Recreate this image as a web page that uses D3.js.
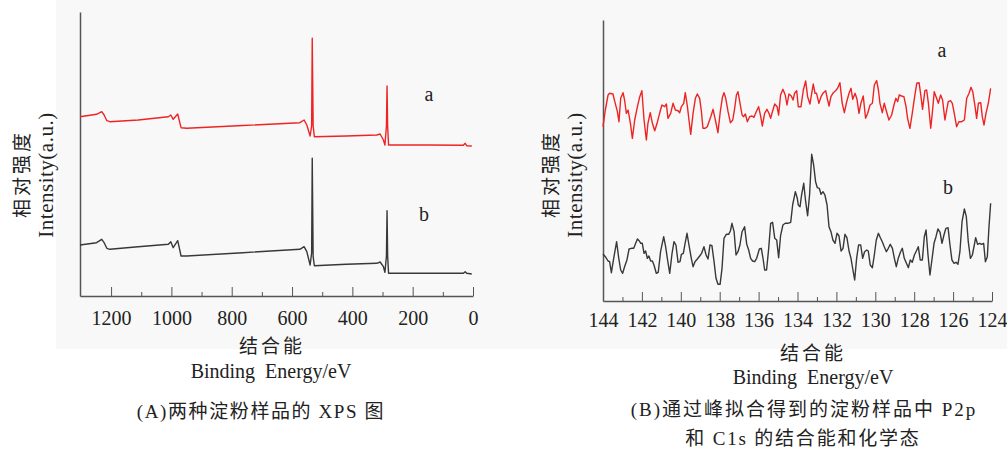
<!DOCTYPE html>
<html>
<head>
<meta charset="utf-8">
<script src="https://cdn.jsdelivr.net/npm/d3@7"></script>
<style>
body{margin:0;background:#fff;}
text{fill:#222;}
.lat{font-family:"Liberation Serif","Times New Roman",serif;}
.cjk{font-family:"Noto Sans CJK SC",sans-serif;}
</style>
</head>
<body>
<div id="chart"></div>
<script>
// (A) wide XPS scan, binding energy (eV) and intensity (a.u.)
var xpsEnergy = [1303, 1248, 1231, 1223, 1214, 1204, 1110, 1010, 1002, 994, 979, 968, 949, 763,
	574, 560, 551, 540, 535, 533, 530, 526, 420, 319, 308, 297, 292, 287, 285, 283, 280, 150, 32, 26, 21, 4];
var xpsA = [179.3, 181.7, 184.3, 181.0, 175.3, 174.3, 176.0, 179.3, 181.0, 176.7, 182.0, 168.3, 167.7, 170.5,
	173.3, 176.0, 171.0, 160.0, 170.0, 257.7, 170.0, 159.3, 160.0, 161.0, 162.0, 156.0, 151.0, 170.0, 210.0, 170.0,
	151.0, 151.0, 150.7, 152.7, 150.3, 150.0];
var xpsB = [51.0, 53.3, 56.7, 53.3, 47.7, 46.7, 49.3, 51.7, 54.3, 48.3, 55.3, 40.0, 40.0, 43.3,
	46.7, 49.3, 44.3, 31.0, 43.0, 137.7, 39.3, 30.3, 31.7, 32.7, 34.0, 29.3, 23.7, 40.0, 85.3, 40.0,
	22.7, 22.7, 22.7, 24.3, 22.7, 22.0];
var xpsTicks = [1200, 1000, 800, 600, 400, 200, 0];
var xpsMinorTicks = [1100, 900, 700, 500, 300, 100];

// (B) P2p / C1s region
var p2pEnergyA = [
	144.00,143.88,143.74,143.66,143.49,143.37,143.26,143.18,143.09,142.97,
	142.89,142.80,142.71,142.59,142.49,142.37,142.23,142.11,142.00,141.89,
	141.77,141.69,141.57,141.46,141.34,141.22,141.09,140.97,140.83,140.74,
	140.66,140.52,140.40,140.28,140.14,140.06,139.97,139.85,139.77,139.66,
	139.58,139.49,139.37,139.25,139.15,139.03,138.94,138.86,138.74,138.64,
	138.55,138.46,138.34,138.26,138.17,138.09,137.97,137.86,137.78,137.69,
	137.57,137.45,137.33,137.23,137.14,137.06,136.97,136.85,136.77,136.68,
	136.58,136.46,136.34,136.24,136.12,136.00,135.89,135.81,135.69,135.57,
	135.47,135.38,135.29,135.17,135.05,134.97,134.87,134.75,134.63,134.54,
	134.44,134.32,134.23,134.15,134.04,
	133.96,133.82,133.70,133.58,133.48,133.36,133.27,133.19,133.10,133.02,
	132.90,132.79,132.67,132.55,132.47,132.38,132.28,132.16,132.04,131.94,
	131.82,131.70,131.59,131.47,131.35,131.25,131.16,131.04,130.94,130.84,
	130.74,130.62,130.50,130.39,130.27,130.15,130.05,129.93,129.84,129.76,
	129.64,129.54,129.42,129.30,129.16,129.04,128.94,128.85,128.77,128.65,
	128.53,128.42,128.34,128.22,128.10,127.99,127.87,127.75,127.65,127.57,
	127.45,127.36,127.27,127.15,127.07,126.97,126.85,126.76,126.64,126.54,
	126.42,126.33,126.25,126.13,126.04,125.94,125.82,125.70,125.56,125.42,
	125.30,125.18,125.08,124.99,124.87,124.79,124.70,124.58,124.50,124.41,
	124.31,124.19,124.07];
var p2pA = [
	170.3,187.0,202.0,203.7,203.0,193.7,185.3,175.3,198.7,204.3,
	197.0,183.7,187.0,173.7,158.7,177.0,190.3,200.3,206.3,177.0,
	157.0,173.7,184.3,173.7,166.3,173.7,183.7,192.0,190.3,193.0,
	178.7,183.7,193.7,187.0,186.3,184.3,190.3,193.7,204.3,190.3,
	177.0,162.7,183.7,198.7,203.0,198.7,185.3,168.7,168.7,170.3,
	175.3,180.3,187.7,180.3,172.0,164.3,185.3,199.7,204.3,198.7,
	185.3,174.3,177.0,188.7,202.0,205.3,195.3,182.0,180.3,183.0,
	175.3,180.3,181.0,179.7,185.3,190.3,180.3,171.0,183.7,187.7,
	183.7,178.7,185.3,193.0,190.3,182.0,202.0,207.7,202.0,192.0,
	203.0,201.0,197.0,203.7,206.3,
	190.3,190.3,207.0,216.0,200.3,193.0,203.7,213.0,203.7,203.7,
	193.7,200.3,204.3,206.3,198.7,191.0,200.3,204.3,206.3,208.7,
	214.3,193.7,184.3,195.3,203.7,208.7,197.7,203.7,197.7,183.7,
	193.7,201.0,178.7,183.7,192.0,193.7,212.0,216.3,207.0,193.7,
	184.3,193.7,185.3,177.0,182.0,192.0,198.7,195.3,202.0,201.0,
	200.3,190.3,178.7,168.7,183.7,198.7,213.7,214.3,200.3,187.7,
	206.3,207.0,193.7,168.7,183.7,205.3,198.7,193.7,202.0,197.0,
	177.0,187.0,195.3,196.3,193.7,183.7,170.3,175.3,175.3,177.0,
	198.7,203.7,209.7,205.3,190.3,178.7,193.7,194.3,180.3,172.0,
	183.7,193.7,208.7];
var p2pEnergyB = [
	144.00,143.88,143.74,143.66,143.57,143.45,143.30,143.19,143.09,142.99,
	142.89,142.77,142.66,142.54,142.42,142.32,142.23,142.13,142.06,141.98,
	141.89,141.81,141.72,141.64,141.55,141.46,141.38,141.26,141.16,141.04,
	140.88,140.78,140.68,140.57,140.45,140.35,140.25,140.14,140.04,139.97,
	139.87,139.78,139.68,139.58,139.46,139.37,139.27,139.15,139.03,138.93,
	138.81,138.70,138.60,138.50,138.40,138.29,138.19,138.09,137.98,137.88,
	137.78,137.66,137.54,137.45,137.37,137.26,137.16,137.06,136.96,136.85,
	136.72,136.61,136.51,136.41,136.31,136.20,136.10,135.96,135.86,135.76,
	135.69,135.59,135.48,135.38,135.28,135.17,135.07,134.97,134.87,134.75,
	134.63,134.49,134.35,134.25,134.11,134.01,
	133.96,133.87,133.79,133.68,133.58,133.48,133.38,133.27,133.17,133.07,
	132.98,132.88,132.79,132.69,132.59,132.48,132.38,132.28,132.18,132.07,
	131.97,131.87,131.76,131.66,131.56,131.46,131.35,131.25,131.15,131.06,
	130.96,130.86,130.75,130.65,130.55,130.44,130.36,130.26,130.15,130.05,
	129.95,129.84,129.74,129.64,129.54,129.43,129.33,129.23,129.12,129.02,
	128.92,128.82,128.71,128.61,128.51,128.40,128.30,128.20,128.10,127.99,
	127.89,127.79,127.69,127.58,127.48,127.39,127.29,127.19,127.09,126.98,
	126.88,126.78,126.67,126.57,126.47,126.37,126.26,126.16,126.06,125.95,
	125.85,125.75,125.65,125.54,125.42,125.32,125.22,125.11,125.01,124.91,
	124.84,124.74,124.63,124.53,124.43,124.34,124.24,124.16,124.07];
var p2pB = [
	43.0,40.3,36.0,35.3,24.3,38.7,55.3,38.7,27.0,23.7,
	30.3,37.0,48.0,48.7,48.7,53.7,58.0,56.0,53.7,53.7,
	43.7,46.0,38.7,41.0,36.0,36.0,32.0,23.7,24.7,45.3,
	60.3,50.3,37.0,23.7,43.7,55.3,52.0,34.7,35.3,42.7,
	43.7,53.7,63.7,52.0,38.7,30.3,35.3,38.0,41.0,43.7,
	50.3,42.0,38.0,52.0,51.3,35.3,18.7,12.7,12.7,28.7,
	58.7,62.7,62.7,66.0,73.7,65.3,42.0,45.3,52.0,65.3,
	70.3,52.7,47.0,38.7,36.0,35.3,38.7,48.0,48.7,37.0,
	27.0,27.0,48.7,73.7,74.7,58.7,57.0,39.3,61.3,72.0,
	73.7,73.7,74.7,92.0,105.3,98.7,
	92.0,90.3,102.0,113.7,95.3,81.3,102.0,142.7,132.0,115.3,
	109.3,108.7,102.7,105.3,102.0,92.0,70.3,65.3,57.0,53.7,
	63.7,61.3,46.0,48.7,62.7,59.3,46.0,38.7,27.0,17.0,
	38.7,52.0,52.0,38.7,45.3,47.0,46.0,32.0,29.3,42.0,
	57.0,63.7,59.3,55.3,50.3,45.3,48.7,52.7,48.7,38.7,
	30.3,38.7,44.7,48.7,38.7,33.7,29.3,37.0,34.7,42.0,
	46.0,50.3,37.0,37.0,60.3,67.0,42.0,22.0,37.0,53.7,
	60.3,68.0,64.7,53.7,62.0,68.7,69.3,52.0,37.0,33.7,
	34.7,32.7,45.3,75.3,88.0,80.3,55.3,38.7,42.0,52.0,
	59.3,52.7,53.7,52.7,53.7,35.3,40.3,68.7,93.7];
var p2pTicks = [144, 142, 140, 138, 136, 134, 132, 130, 128, 126, 124];
var p2pMinorTicks = [143, 141, 139, 137, 135, 133, 131, 129, 127, 125];

var RED = "#ee2424", DARK = "#383838", AXIS = "#555";

var svg = d3.select("#chart")
	.append("svg")
	.attr("width", 1007)
	.attr("height", 451);

// light grey plate behind both plots
svg.append("rect")
	.attr("x", 56).attr("y", 0)
	.attr("width", 951).attr("height", 349)
	.attr("fill", "#f8f8f8");

// text made of runs: Latin runs get the serif face, Chinese runs the CJK face
function addText(runs, x, y, size, spacing){
	var t = svg.append("text")
		.attr("x", x).attr("y", y)
		.attr("text-anchor", "middle")
		.style("font-size", size + "px")
		.style("letter-spacing", (spacing || 0) + "px");
	[].concat(runs).forEach(function(r){
		var isCjk = /[\u3400-\u9fff]/.test(r);
		t.append("tspan").attr("class", isCjk ? "cjk" : "lat").text(r);
	});
	return t;
}

function addYTitle(x1, x2, cy){
	svg.append("text")
		.attr("class", "cjk")
		.attr("transform", "translate(" + x1 + "," + cy + ") rotate(-90)")
		.attr("text-anchor", "middle")
		.attr("dominant-baseline", "central")
		.style("font-size", "19px")
		.style("letter-spacing", "3px")
		.text("相对强度");
	svg.append("text")
		.attr("class", "lat")
		.attr("transform", "translate(" + x2 + "," + (cy + 1) + ") rotate(-90)")
		.attr("text-anchor", "middle")
		.attr("dominant-baseline", "central")
		.style("font-size", "21px")
		.style("letter-spacing", "0.5px")
		.text("Intensity(a.u.)");
}

function drawPanel(cfg){
	var x = d3.scaleLinear().domain(cfg.xDomain).range(cfg.xRange);
	var y = d3.scaleLinear().domain(cfg.yDomain).range(cfg.yRange);
	var base = cfg.yRange[0];

	// minor ticks (short, pointing up)
	svg.append("g")
		.attr("transform", "translate(0," + base + ")")
		.attr("color", AXIS)
		.call(d3.axisBottom(x).tickValues(cfg.minor).tickSize(-4).tickSizeOuter(0).tickFormat(""))
		.call(function(g){ g.select(".domain").remove(); });

	// major ticks + labels
	var ax = svg.append("g")
		.attr("transform", "translate(0," + base + ")")
		.attr("color", AXIS)
		.call(d3.axisBottom(x).tickValues(cfg.major).tickSize(-9).tickSizeOuter(0)
			.tickPadding(cfg.pad).tickFormat(d3.format("d")));
	ax.select(".domain").attr("stroke-width", 1.5);
	ax.selectAll("text")
		.attr("class", "lat")
		.style("font-size", "20px")
		.attr("fill", "#222");

	// y axis is a bare line
	svg.append("g")
		.attr("transform", "translate(" + cfg.xRange[0] + ",0)")
		.attr("color", AXIS)
		.call(d3.axisLeft(y).tickValues([]).tickSizeOuter(0))
		.select(".domain").attr("stroke-width", 1.5);

	var line = d3.line()
		.x(function(d){ return x(d[0]); })
		.y(function(d){ return y(d[1]); });

	cfg.series.forEach(function(s){
		svg.append("path")
			.datum(d3.zip(s.x, s.y))
			.attr("fill", "none")
			.attr("stroke", s.color)
			.attr("stroke-width", 1.4)
			.attr("stroke-linejoin", "round")
			.attr("d", line);
		addText(s.name, s.labelPos[0], s.labelPos[1], 20);
	});
}

drawPanel({
	xDomain: [1303, 0], xRange: [80, 473],
	yDomain: [0, 284], yRange: [296, 12],
	major: xpsTicks, minor: xpsMinorTicks, pad: 15,
	series: [
		{name: "a", x: xpsEnergy, y: xpsA, color: RED, labelPos: [429, 101]},
		{name: "b", x: xpsEnergy, y: xpsB, color: DARK, labelPos: [424, 221]}
	]
});

drawPanel({
	xDomain: [144, 124], xRange: [603, 992],
	yDomain: [-4, 277], yRange: [301, 20],
	major: p2pTicks, minor: p2pMinorTicks, pad: 12,
	series: [
		{name: "a", x: p2pEnergyA, y: p2pA, color: RED, labelPos: [942, 57]},
		{name: "b", x: p2pEnergyB, y: p2pB, color: DARK, labelPos: [948, 194]}
	]
});

addYTitle(20, 46, 174);
addYTitle(549, 575, 174);

// axis titles and captions
addText("结合能", 272, 353, 19, 3);
addText("Binding Energy/eV", 271, 378, 20).style("word-spacing", "5px");
addText(["(A)", "两种淀粉样品的", " XPS ", "图"], 261, 418, 19, 1.6);

addText("结合能", 813, 360, 19, 3);
addText("Binding Energy/eV", 813, 384, 20).style("word-spacing", "5px");
addText(["(B)", "通过峰拟合得到的淀粉样品中", " P2p"], 804, 416, 19, 2);
addText(["和", " C1s ", "的结合能和化学态"], 803, 445, 19, 1.8);
</script>
</body>
</html>
